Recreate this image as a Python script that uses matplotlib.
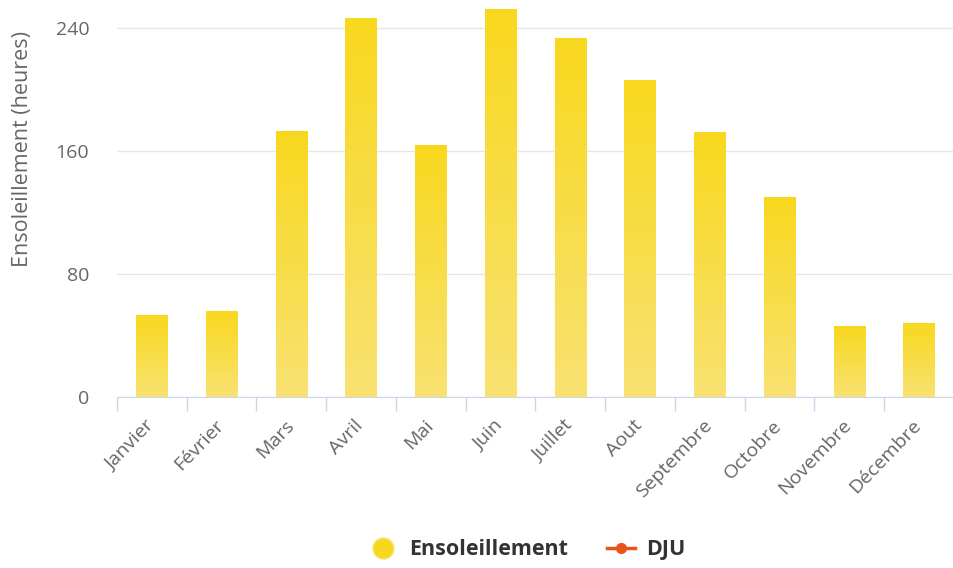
import numpy as np
import matplotlib.pyplot as plt
import matplotlib.transforms as mtransforms
from matplotlib.lines import Line2D
from matplotlib.colors import LinearSegmentedColormap

plt.rcParams['font.family'] = ['Open Sans', 'DejaVu Sans']

# Monthly sunshine hours
mois = ['Janvier', 'Février', 'Mars', 'Avril', 'Mai', 'Juin', 'Juillet',
        'Aout', 'Septembre', 'Octobre', 'Novembre', 'Décembre']
ensoleillement = [53, 56, 173, 246, 164, 252, 233, 206, 172, 130, 46, 48]
y_ticks = [0, 80, 160, 240]

fig = plt.figure(figsize=(9.54, 5.68), dpi=100)
ax = fig.add_axes([0.1226, 0.301, 0.8774, 0.699])

x = np.arange(len(mois))
bars = ax.bar(x, ensoleillement, width=0.45, color='none', zorder=3)

# vertical gradient fill for each bar (strong yellow at top, paler at bottom)
cmap = LinearSegmentedColormap.from_list('sun', ['#f9e272', '#f8d81e'])
grad = np.linspace(0, 1, 256).reshape(-1, 1)
for b in bars:
    x0, w, h = b.get_x(), b.get_width(), b.get_height()
    im = ax.imshow(grad, cmap=cmap, origin='lower', aspect='auto',
                   extent=[x0, x0 + w, 0, h], zorder=3)
    im.set_clip_path(b)

ax.set_xlim(-0.5, len(mois) - 0.5)
ax.set_ylim(0, 258)
ax.set_yticks(y_ticks)
ax.set_yticklabels([str(v) for v in y_ticks])
ax.grid(axis='y', color='#e6e6e6', linewidth=1, zorder=0)
ax.tick_params(axis='y', length=0, labelsize=14, labelcolor='#666666', pad=20)

# category labels, tick marks at category boundaries
ax.set_xticks(x)
ax.set_xticklabels(mois, rotation=46, ha='right', rotation_mode='anchor',
                   fontsize=14, color='#666666')
ax.tick_params(axis='x', length=0, pad=14)
shift = mtransforms.ScaledTranslation(-7 / 100, 0, fig.dpi_scale_trans)
for lab in ax.get_xticklabels():
    lab.set_transform(lab.get_transform() + shift)
ax.set_xticks(np.arange(-0.5, len(mois) + 0.5, 1), minor=True)
ax.tick_params(axis='x', which='minor', length=10, color='#ccd6eb', width=1)

for s in ['top', 'right', 'left']:
    ax.spines[s].set_visible(False)
ax.spines['bottom'].set_color('#ccd6eb')

fig.text(23 / 954, 1 - 149 / 568, 'Ensoleillement (heures)', rotation=90,
         ha='center', va='center', fontsize=15.5, color='#666666')

handles = [
    Line2D([], [], marker='o', linestyle='none', markersize=15,
           markerfacecolor='#f8d81e', markeredgecolor='#f9e272'),
    Line2D([], [], color='#e8531c', linewidth=2.5, marker='o', markersize=7),
]
fig.legend(handles, ['Ensoleillement', 'DJU'], loc='center',
           bbox_to_anchor=(0.553, 0.032), ncol=2, frameon=False,
           prop={'weight': 'bold', 'size': 15.5}, labelcolor='#333333',
           handlelength=1.3, columnspacing=1.8, handletextpad=0.55)

fig.savefig('out.png', dpi=100)
